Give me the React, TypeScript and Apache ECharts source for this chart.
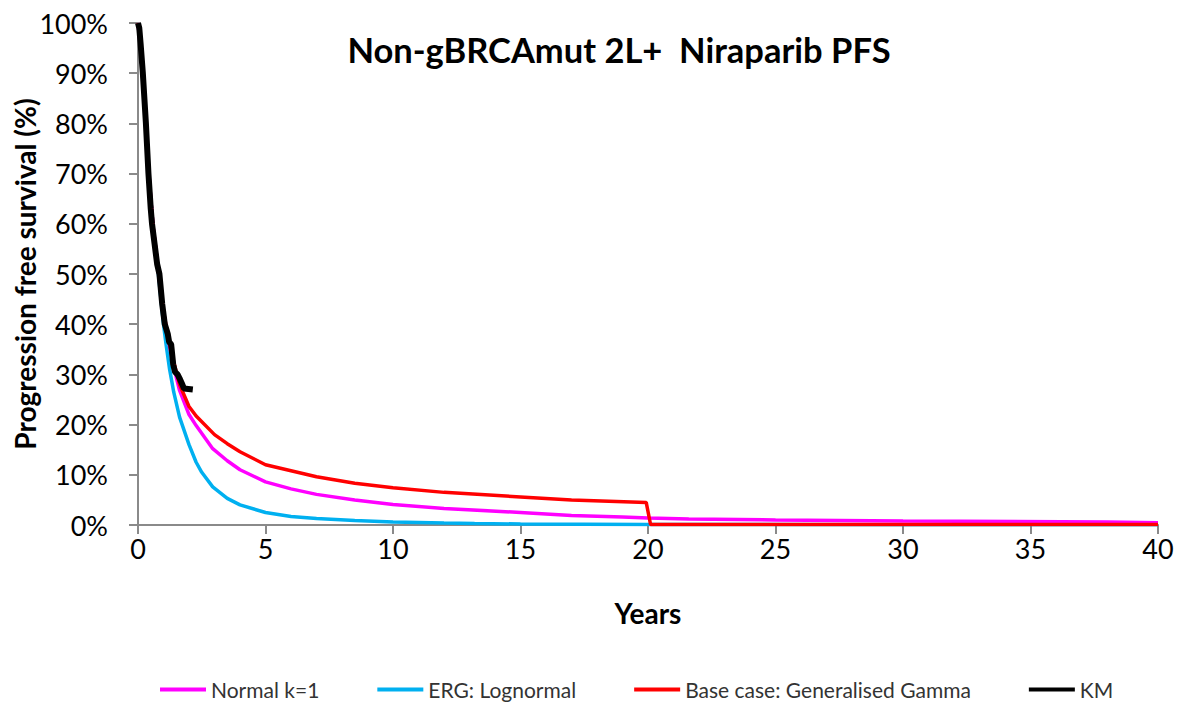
import React, { useEffect, useRef } from "react";
import * as echarts from "echarts";

const titleText = "Non-gBRCAmut 2L+  Niraparib PFS";
const seriesNames = ["Normal k=1", "ERG: Lognormal", "Base case: Generalised Gamma", "KM"];

const normalT = [0, 0.1, 0.2, 0.3, 0.4, 0.5, 0.6, 0.7, 0.8, 0.9, 1.0, 1.2, 1.4, 1.63, 2.0, 2.28, 2.93, 3.5, 4, 5, 6, 7, 8.5, 10, 12, 15, 17, 19, 20, 21.6, 25, 30, 38, 40];
const normalV = [100, 95, 88, 80, 72, 65, 59, 55, 50.5, 46, 42.5, 36.5, 31.5, 26.8, 22, 19.8, 15.2, 12.8, 11, 8.6, 7.2, 6.1, 5.0, 4.1, 3.3, 2.5, 1.9, 1.6, 1.4, 1.2, 1.0, 0.8, 0.6, 0.45];

const lognormT = [0, 0.1, 0.2, 0.3, 0.4, 0.5, 0.6, 0.7, 0.8, 0.9, 1.0, 1.1, 1.24, 1.4, 1.63, 2.0, 2.28, 2.5, 2.93, 3.5, 4, 5, 6, 7, 8.5, 10, 12, 13.2, 15, 20, 30, 40];
const lognormV = [100, 95, 88, 80, 72, 65, 59, 54.5, 50, 45, 40, 36, 31, 26.5, 21.5, 16, 12.5, 10.5, 7.6, 5.3, 4.0, 2.5, 1.7, 1.3, 0.9, 0.6, 0.4, 0.3, 0.2, 0.1, 0.05, 0.03];

const gammaT = [0, 0.1, 0.2, 0.3, 0.4, 0.5, 0.6, 0.7, 0.8, 0.9, 1.0, 1.2, 1.4, 1.63, 2.0, 2.28, 3.0, 3.5, 4, 5, 6, 7, 8.5, 10, 12, 15, 17, 19.93, 20.1, 25, 30, 40];
const gammaV = [100, 95, 88, 80, 72, 65, 59, 55, 50.5, 46, 42.5, 37, 32.5, 28, 23.6, 21.7, 18, 16.2, 14.6, 12.0, 10.8, 9.6, 8.3, 7.4, 6.5, 5.6, 5.0, 4.5, 0.1, 0.1, 0.1, 0.1];

const kmT = [0, 0.05, 0.1, 0.19, 0.31, 0.41, 0.5, 0.55, 0.65, 0.75, 0.84, 0.95, 1.05, 1.17, 1.22, 1.3, 1.38, 1.45, 1.55, 1.65, 1.72, 1.8, 2.15];
const kmV = [100, 99, 96, 90, 80, 70, 63, 60, 56, 52, 50, 44, 40, 38, 36.5, 36, 32, 30.5, 30, 29, 28.2, 27.2, 27];

const xTicks = [0, 40, 5];
const yTicks = [0, 100, 10];

const zip = (t: number[], v: number[]) => t.map((x, i) => [x, v[i]]);

export default function App() {
  const ref = useRef<HTMLDivElement>(null);
  useEffect(() => {
    if (!ref.current) return;
    const chart = echarts.init(ref.current, null, { renderer: "svg" });
    const font = "Lato";
    const axisGray = "#8a8a8a";
    chart.setOption({
      animation: false,
      backgroundColor: "#ffffff",
      title: {
        text: titleText,
        left: 614,
        top: 27,
        textAlign: "center",
        textStyle: { fontFamily: font, fontWeight: "bold", fontSize: 34.5, color: "#000" },
      },
      grid: { left: 138, right: 26, top: 23, bottom: 181, containLabel: false, outerBoundsMode: "none" },
      legend: {
        left: 155,
        top: 674,
        itemWidth: 46,
        itemHeight: 4,
        itemGap: 58,
        icon: "rect",
        textStyle: { fontFamily: font, fontSize: 21, color: "#333" },
        data: seriesNames,
      },
      xAxis: {
        type: "value",
        min: xTicks[0],
        max: xTicks[1],
        interval: xTicks[2],
        name: "Years",
        nameLocation: "middle",
        nameMoveOverlap: false,
        nameGap: 74,
        nameTextStyle: { fontFamily: font, fontWeight: "bold", fontSize: 28, color: "#000" },
        axisLine: { lineStyle: { color: axisGray, width: 2 } },
        axisTick: { show: true, length: 9, lineStyle: { color: axisGray, width: 2 } },
        axisLabel: { fontFamily: font, fontSize: 27, color: "#000", margin: 10 },
        splitLine: { show: false },
      },
      yAxis: {
        type: "value",
        min: yTicks[0],
        max: yTicks[1],
        interval: yTicks[2],
        name: "Progression free survival (%)",
        nameLocation: "middle",
        nameMoveOverlap: false,
        nameGap: 99,
        nameTextStyle: { fontFamily: font, fontWeight: "bold", fontSize: 28, color: "#000" },
        axisLine: { show: true, lineStyle: { color: axisGray, width: 2 } },
        axisTick: { show: true, length: 9, lineStyle: { color: axisGray, width: 2 } },
        axisLabel: { fontFamily: font, fontSize: 27, color: "#000", margin: 30, formatter: "{value}%" },
        splitLine: { show: false },
      },
      series: [
        {
          name: seriesNames[1],
          type: "line",
          data: zip(lognormT, lognormV),
          symbol: "none",
          lineStyle: { color: "#00b0f0", width: 3.5 },
          itemStyle: { color: "#00b0f0" },
        },
        {
          name: seriesNames[0],
          type: "line",
          data: zip(normalT, normalV),
          symbol: "none",
          lineStyle: { color: "#ff00ff", width: 3.5 },
          itemStyle: { color: "#ff00ff" },
        },
        {
          name: seriesNames[2],
          type: "line",
          data: zip(gammaT, gammaV),
          symbol: "none",
          lineStyle: { color: "#ff0000", width: 3.5 },
          itemStyle: { color: "#ff0000" },
        },
        {
          name: seriesNames[3],
          type: "line",
          data: zip(kmT, kmV),
          symbol: "none",
          lineStyle: { color: "#000000", width: 6 },
          itemStyle: { color: "#000000" },
        },
      ],
    });
    return () => chart.dispose();
  }, []);
  return (
    <div
      ref={ref}
      style={{ position: "fixed", left: 0, top: 0, width: 1184, height: 706, background: "#fff" }}
    />
  );
}
